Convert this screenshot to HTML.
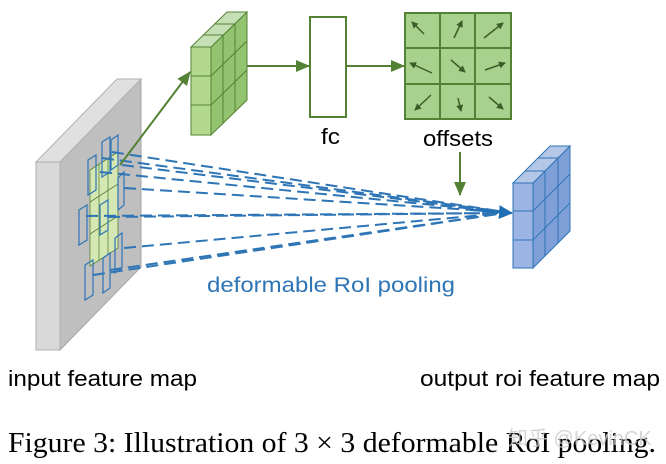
<!DOCTYPE html>
<html><head><meta charset="utf-8"><style>
body{margin:0;background:#fff;}
svg{display:block}
</style></head><body>
<svg width="666" height="464" viewBox="0 0 666 464" xmlns="http://www.w3.org/2000/svg">
<defs>
<marker id="ga" markerWidth="14" markerHeight="12" refX="13" refY="6" orient="auto" markerUnits="userSpaceOnUse"><path d="M0,0 L14,6 L0,12 z" fill="#548235"/></marker>
<marker id="ba" markerWidth="14" markerHeight="14" refX="13" refY="7" orient="auto" markerUnits="userSpaceOnUse"><path d="M0,0 L14,7 L0,14 z" fill="#1f6fb5"/></marker>
<marker id="sa" markerWidth="7" markerHeight="7" refX="6" refY="3.5" orient="auto" markerUnits="userSpaceOnUse"><path d="M0,0 L7,3.5 L0,7 z" fill="#3a5e28"/></marker>
</defs>
<polygon points="60,162 141,79 141,267 60,350" fill="#bfbfbf" stroke="#a6a6a6"/>
<polygon points="36,162 60,162 141,79 117,79" fill="#e0e0e0" stroke="#b0b0b0"/>
<rect x="36" y="162" width="24" height="188" fill="#d9d9d9" stroke="#b0b0b0"/>
<polygon points="90,170 118,152 118,248 90,266" fill="#d5e8b4" stroke="#548235" stroke-width="0.8"/>
<g stroke="#548235" stroke-width="0.8"><line x1="99" y1="164" x2="99" y2="260"/><line x1="108" y1="158" x2="108" y2="254"/><line x1="90" y1="202" x2="118" y2="184"/><line x1="90" y1="234" x2="118" y2="216"/></g>
<g fill="none" stroke="#2e75b6" stroke-width="1.2">
<polygon points="88,160 96,155 96,190 88,195"/><polygon points="102,142 110,137 110,172 102,177"/><polygon points="111,140 118,135 118,165 111,170"/>
<polygon points="118,178 124,172 124,205 118,210"/><polygon points="79,210 87,205 87,240 79,245"/><polygon points="100,205 108,200 108,230 100,235"/>
<polygon points="115,238 122,233 122,268 115,273"/><polygon points="85,265 93,260 93,295 85,300"/><polygon points="103,258 110,253 110,288 103,293"/>
</g>
<g stroke="#2e75b6" stroke-width="2" stroke-dasharray="12,6" fill="none">
<line x1="112" y1="152" x2="505" y2="212"/><line x1="102" y1="158" x2="505" y2="212"/><line x1="122" y1="165" x2="505" y2="212"/>
<line x1="124" y1="188" x2="505" y2="212"/><line x1="100" y1="172" x2="505" y2="212"/>
<line x1="86" y1="216" x2="505" y2="213"/><line x1="108" y1="217" x2="505" y2="213"/>
<line x1="124" y1="248" x2="505" y2="213"/><line x1="110" y1="270" x2="505" y2="213"/><line x1="93" y1="275" x2="505" y2="213"/>
</g>
<line x1="470" y1="210" x2="512" y2="213" stroke="#1f6fb5" stroke-width="2" marker-end="url(#ba)"/>
<line x1="120" y1="165" x2="190" y2="72" stroke="#548235" stroke-width="2" marker-end="url(#ga)"/>
<g stroke="#548235" stroke-width="1" fill="#a9d18e">
<polygon points="211,47 247,12 247,100 211,135" fill="#92c36e"/>
<polygon points="191,47 211,47 247,12 227,12" fill="#c5e0b4"/>
<rect x="191" y="47" width="20" height="88" fill="#b3d98f"/>
<line x1="191" y1="76" x2="211" y2="76"/><line x1="191" y1="105" x2="211" y2="105"/>
<line x1="223" y1="35" x2="223" y2="123"/><line x1="235" y1="24" x2="235" y2="112"/>
<line x1="211" y1="76" x2="247" y2="41"/><line x1="211" y1="105" x2="247" y2="70"/>
<line x1="203" y1="35" x2="223" y2="35"/><line x1="215" y1="24" x2="235" y2="24"/>
</g>
<line x1="247" y1="66" x2="309" y2="66" stroke="#548235" stroke-width="2" marker-end="url(#ga)"/>
<rect x="310" y="17" width="36" height="100" fill="#fff" stroke="#548235" stroke-width="2"/>
<line x1="346" y1="66" x2="404" y2="66" stroke="#548235" stroke-width="2" marker-end="url(#ga)"/>
<rect x="405" y="13" width="106" height="106" fill="#a9d18e" stroke="#548235" stroke-width="2"/>
<g stroke="#548235" stroke-width="2"><line x1="440" y1="13" x2="440" y2="119"/><line x1="475" y1="13" x2="475" y2="119"/><line x1="405" y1="48" x2="511" y2="48"/><line x1="405" y1="84" x2="511" y2="84"/></g>
<g stroke="#3a5e28" stroke-width="1.5" marker-end="url(#sa)">
<line x1="424" y1="34" x2="412" y2="22"/><line x1="454" y1="38" x2="462" y2="21"/><line x1="484" y1="38" x2="503" y2="23"/>
<line x1="432" y1="73" x2="410" y2="63"/><line x1="451" y1="60" x2="465" y2="72"/><line x1="485" y1="70" x2="505" y2="63"/>
<line x1="431" y1="95" x2="415" y2="110"/><line x1="458" y1="98" x2="461" y2="111"/><line x1="489" y1="97" x2="503" y2="109"/>
</g>
<line x1="460" y1="152" x2="460" y2="195" stroke="#548235" stroke-width="2" marker-end="url(#ga)"/>
<g stroke="#2e75b6" stroke-width="1" fill="#8faadc">
<polygon points="533,183 570,146 570,231 533,268" fill="#7f9fd8"/>
<polygon points="513,183 533,183 570,146 550,146" fill="#b4c7e7"/>
<rect x="513" y="183" width="20" height="85" fill="#9db5e4"/>
<line x1="513" y1="211" x2="533" y2="211"/><line x1="513" y1="240" x2="533" y2="240"/>
<line x1="545" y1="171" x2="545" y2="256"/><line x1="558" y1="158" x2="558" y2="243"/>
<line x1="533" y1="211" x2="570" y2="174"/><line x1="533" y1="240" x2="570" y2="203"/>
<line x1="525" y1="171" x2="545" y2="171"/><line x1="538" y1="158" x2="558" y2="158"/>
</g>
<g font-family="Liberation Sans, sans-serif">
<text x="321" y="144" font-size="22" fill="#000" textLength="19" lengthAdjust="spacingAndGlyphs">fc</text>
<text x="423" y="146" font-size="22" fill="#000" textLength="70" lengthAdjust="spacingAndGlyphs">offsets</text>
<text x="207" y="292" font-size="21" fill="#2e75b6" textLength="248" lengthAdjust="spacingAndGlyphs">deformable RoI pooling</text>
<text x="8" y="386" font-size="22" fill="#000" textLength="189" lengthAdjust="spacingAndGlyphs">input feature map</text>
<text x="420" y="386" font-size="22" fill="#000" textLength="240" lengthAdjust="spacingAndGlyphs">output roi feature map</text>
</g>
<text x="8" y="452" font-family="Liberation Serif, serif" font-size="28" fill="#000" textLength="648" lengthAdjust="spacingAndGlyphs">Figure 3: Illustration of 3 × 3 deformable RoI pooling.</text>
<text x="508" y="445" font-family="Liberation Sans, 'Noto Sans CJK SC', sans-serif" font-size="20" fill="#ccc" opacity="0.8">知乎 @KevinCK</text>
</svg>
</body></html>
